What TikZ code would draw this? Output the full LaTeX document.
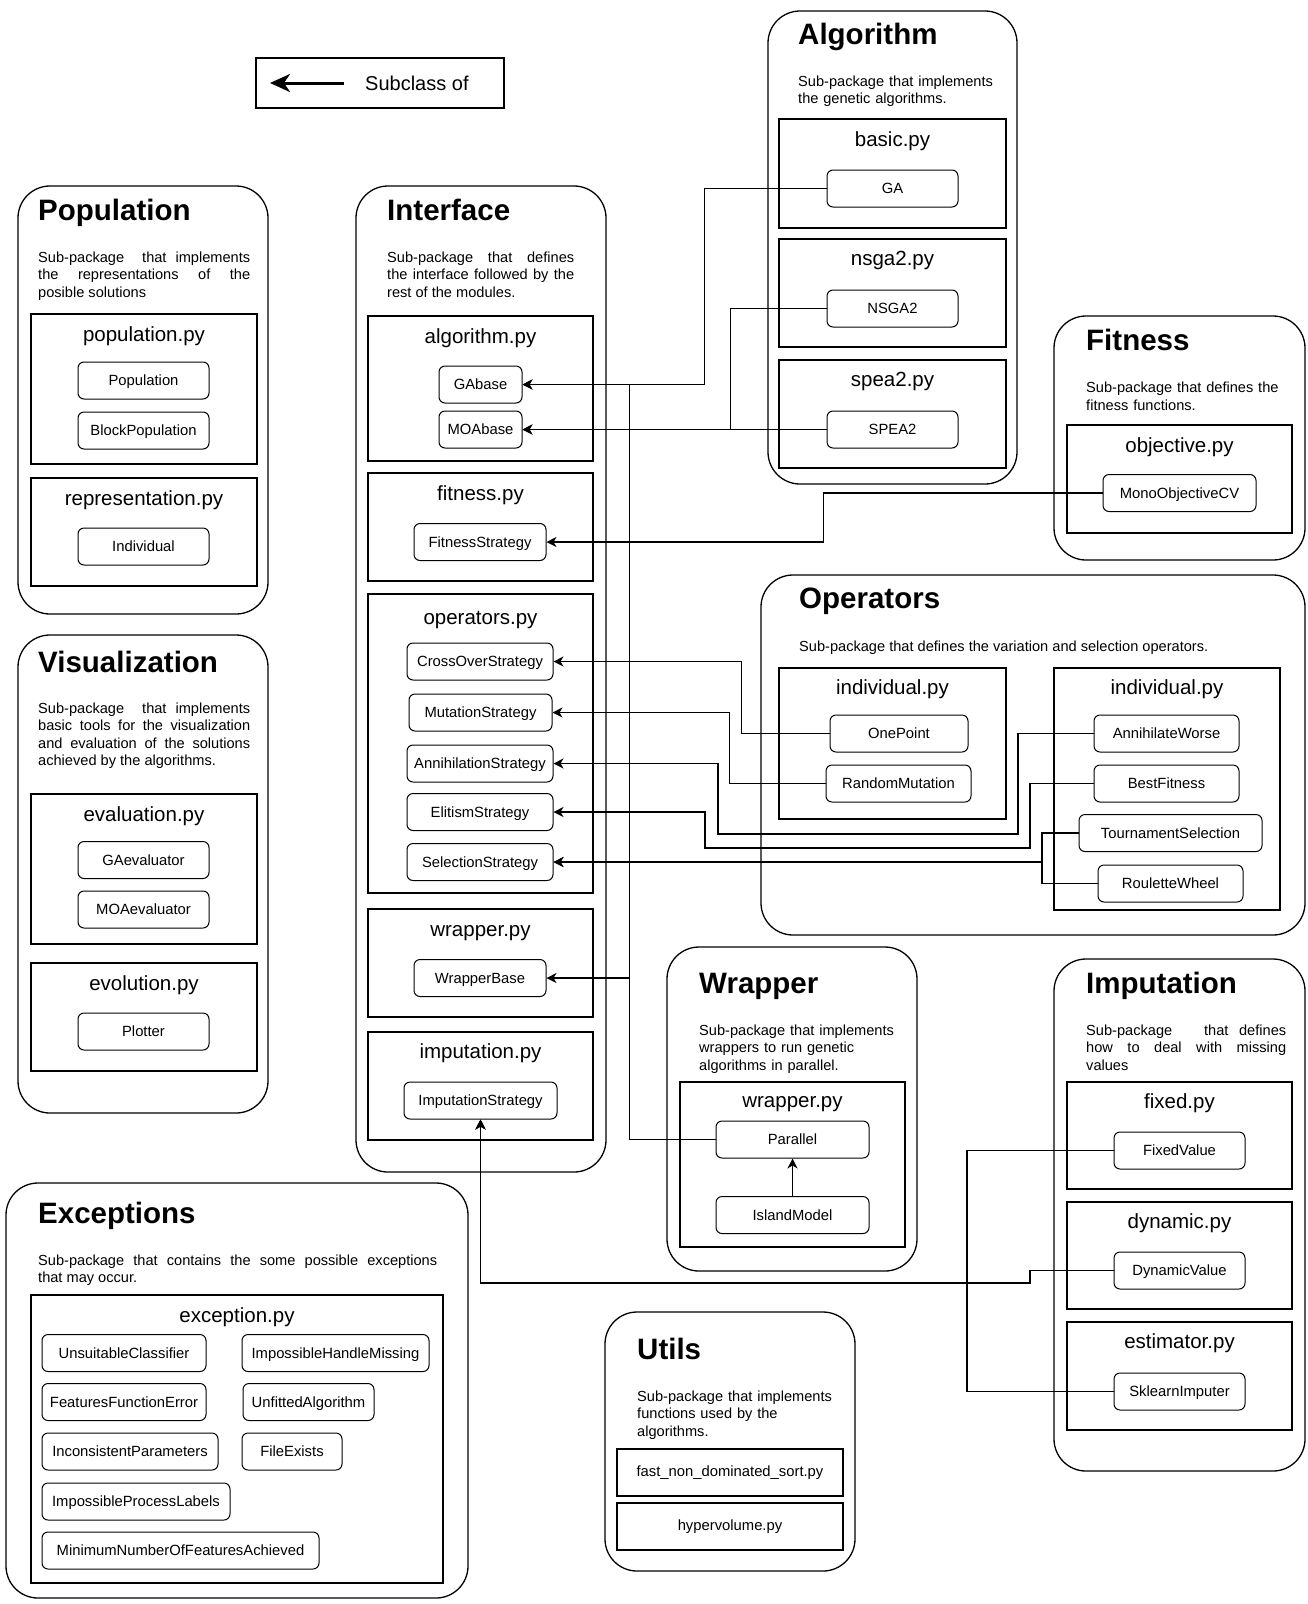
\documentclass[tikz,border=0pt]{standalone}
\usepackage{fontspec}
\setmainfont{Liberation Sans}
\usetikzlibrary{arrows.meta}

\hyphenpenalty=10000
\tolerance=10000
\hbadness=10000

\tikzset{
	pkg/.style={draw, line width=1.3pt, rounded corners=32pt},
	modbox/.style={draw, line width=2.8pt},
	ifbox/.style={draw, line width=1.2pt},
	cls/.style={draw, line width=1pt, rounded corners=6pt, minimum height=37pt, inner sep=0pt, text height=10.6pt, text depth=0pt, font=\fontsize{14.8}{17}\selectfont},
	pkgtitle/.style={anchor=base west, inner sep=0pt, font=\fontsize{29.5}{34}\selectfont\bfseries},
	pkgdesc/.style={anchor=base west, inner sep=0pt, font=\fontsize{14.6}{17.5}\selectfont},
	modtitle/.style={anchor=base, inner sep=0pt, font=\fontsize{20.5}{24}\selectfont},
	filetext/.style={inner sep=0pt, font=\fontsize{14.8}{17}\selectfont},
	sub/.style={line width=1.2pt, -{Stealth[length=10pt,width=10pt,inset=3pt]}},
	legarrow/.style={line width=3pt, -{Stealth[length=20pt,width=18pt,inset=6pt]}},
}

\begin{document}
\begin{tikzpicture}[x=1pt,y=-1pt]
	\useasboundingbox (0,0) rectangle (1307,1604);

	% legend
	\draw [ifbox] (256,58) rectangle (504,108);
	\coordinate (legS) at (344,83);
	\coordinate (legE) at (270,83);
	\draw [legarrow] (legS) -- (legE);
	\node [anchor=west, inner sep=0pt, font=\fontsize{20}{24}\selectfont] (legT) at (365,83) {Subclass of};

	% Population
	\draw [pkg] (18,186) rectangle (268,614);
	\node [pkgtitle] (popT) at (38,220) {Population};
	\node [pkgdesc, text width=212pt, align=justify] (popD) at (38,262) {Sub-package\ \ that implements\linebreak the representations of the\linebreak posible solutions};
	\draw [modbox] (31,314) rectangle (257,464);
	\node [modtitle] (popF) at (144,341) {population.py};
	\node [cls, minimum width=131pt] (Population) at (143.5,380.5) {Population};
	\node [cls, minimum width=131pt] (BlockPopulation) at (143.5,430.5) {BlockPopulation};
	\draw [modbox] (31,478) rectangle (257,586);
	\node [modtitle] (repF) at (144,505) {representation.py};
	\node [cls, minimum width=131pt] (Individual) at (143.5,546.5) {Individual};

	% Visualization
	\draw [pkg] (18,635) rectangle (268,1113);
	\node [pkgtitle] (visT) at (38,672) {Visualization};
	\node [pkgdesc, text width=212pt, align=justify] (visD) at (38,713) {Sub-package\ \ that implements\linebreak basic tools for the visualization\linebreak and evaluation of the solutions\linebreak achieved by the algorithms.};
	\draw [modbox] (31,794) rectangle (257,944);
	\node [modtitle] (evaF) at (144,821) {evaluation.py};
	\node [cls, minimum width=131pt] (GAevaluator) at (143.5,860) {GAevaluator};
	\node [cls, minimum width=131pt] (MOAevaluator) at (143.5,909.5) {MOAevaluator};
	\draw [modbox] (31,963) rectangle (257,1071);
	\node [modtitle] (evoF) at (144,990) {evolution.py};
	\node [cls, minimum width=131pt] (Plotter) at (143.5,1031.5) {Plotter};

	% Interface
	\draw [pkg] (356,186) rectangle (606,1172);
	\node [pkgtitle] (intT) at (387,220) {Interface};
	\node [pkgdesc, text width=187pt, align=justify] (intD) at (387,262) {Sub-package that defines\linebreak the interface followed by the\linebreak rest of the modules.};
	\draw [ifbox] (368,316) rectangle (593,461);
	\node [modtitle] (algF) at (480.5,343) {algorithm.py};
	\node [cls, minimum width=83pt] (GAbase) at (480.5,384.5) {GAbase};
	\node [cls, minimum width=83pt] (MOAbase) at (480.5,429.5) {MOAbase};
	\draw [ifbox] (368,473) rectangle (593,581);
	\node [modtitle] (fitF) at (480.5,500) {fitness.py};
	\node [cls, minimum width=132pt] (FitnessStrategy) at (480,542) {FitnessStrategy};
	\draw [ifbox] (368,594) rectangle (593,893);
	\node [modtitle] (opF) at (480.5,624) {operators.py};
	\node [cls, minimum width=146pt] (CrossOverStrategy) at (480,661.5) {CrossOverStrategy};
	\node [cls, minimum width=143pt] (MutationStrategy) at (480.5,712.5) {MutationStrategy};
	\node [cls, minimum width=146pt] (AnnihilationStrategy) at (480,763.5) {AnnihilationStrategy};
	\node [cls, minimum width=146pt] (ElitismStrategy) at (480,812) {ElitismStrategy};
	\node [cls, minimum width=146pt] (SelectionStrategy) at (480,862) {SelectionStrategy};
	\draw [ifbox] (368,909) rectangle (593,1017);
	\node [modtitle] (wrapF) at (480.5,936) {wrapper.py};
	\node [cls, minimum width=132pt] (WrapperBase) at (480,978) {WrapperBase};
	\draw [ifbox] (368,1032) rectangle (593,1140);
	\node [modtitle] (impF) at (480.5,1058) {imputation.py};
	\node [cls, minimum width=153pt] (ImputationStrategy) at (480.5,1100.5) {ImputationStrategy};

	% Algorithm
	\draw [pkg] (768,11) rectangle (1017,484);
	\node [pkgtitle] (algT) at (798,44) {Algorithm};
	\node [pkgdesc, text width=205pt, align=left] (algD) at (798,86) {Sub-package that implements\\the genetic algorithms.};
	\draw [modbox] (779,119) rectangle (1006,228);
	\node [modtitle] (basF) at (892.5,146) {basic.py};
	\node [cls, minimum width=131pt] (GA) at (892.5,188.5) {GA};
	\draw [modbox] (779,239) rectangle (1006,347);
	\node [modtitle] (nsgF) at (892.5,265) {nsga2.py};
	\node [cls, minimum width=131pt] (NSGA2) at (892.5,308.5) {NSGA2};
	\draw [modbox] (779,360) rectangle (1006,468);
	\node [modtitle] (speF) at (892.5,386) {spea2.py};
	\node [cls, minimum width=131pt] (SPEA2) at (892.5,429.5) {SPEA2};

	% Fitness
	\draw [pkg] (1054,316) rectangle (1305,560);
	\node [pkgtitle] (fitT) at (1086,350) {Fitness};
	\node [pkgdesc, text width=200pt, align=left] (fitD) at (1086,392.5) {Sub-package that defines the\\fitness functions.};
	\draw [modbox] (1067,425) rectangle (1292,533);
	\node [modtitle] (objF) at (1179.5,452) {objective.py};
	\node [cls, minimum width=153pt] (MonoObjectiveCV) at (1179.5,493) {MonoObjectiveCV};

	% Operators
	\draw [pkg] (761,575) rectangle (1305,935);
	\node [pkgtitle] (opT) at (799,608) {Operators};
	\node [pkgdesc] (opD) at (799,651.5) {Sub-package that defines the variation and selection operators.};
	\draw [modbox] (779,668) rectangle (1006,819);
	\node [modtitle] (indAF) at (892.5,694) {individual.py};
	\node [cls, minimum width=138pt] (OnePoint) at (899,733.5) {OnePoint};
	\node [cls, minimum width=145pt] (RandomMutation) at (898.5,783.5) {RandomMutation};
	\draw [modbox] (1054,668) rectangle (1280,910);
	\node [modtitle] (indBF) at (1167,694) {individual.py};
	\node [cls, minimum width=145pt] (AnnihilateWorse) at (1166.5,733.5) {AnnihilateWorse};
	\node [cls, minimum width=145pt] (BestFitness) at (1166.5,783.5) {BestFitness};
	\node [cls, minimum width=183pt] (TournamentSelection) at (1170.5,833) {TournamentSelection};
	\node [cls, minimum width=145pt] (RouletteWheel) at (1170.5,883.5) {RouletteWheel};

	% Wrapper
	\draw [pkg] (667,947) rectangle (917,1271);
	\node [pkgtitle] (wrT) at (699,993) {Wrapper};
	\node [pkgdesc, text width=210pt, align=left] (wrD) at (699,1035) {Sub-package that implements\\wrappers to run genetic\\algorithms in parallel.};
	\draw [modbox] (680,1082) rectangle (905,1247);
	\node [modtitle] (wrF) at (792.5,1107) {wrapper.py};
	\node [cls, minimum width=153pt] (Parallel) at (792.5,1139.5) {Parallel};
	\node [cls, minimum width=153pt] (IslandModel) at (792.5,1215) {IslandModel};

	% Imputation
	\draw [pkg] (1054,959) rectangle (1305,1471);
	\node [pkgtitle] (imT) at (1086,993) {Imputation};
	\node [pkgdesc, text width=200pt, align=justify] (imD) at (1086,1035) {Sub-package\ \ \ that defines\linebreak how to deal with missing\linebreak values};
	\draw [modbox] (1067,1082) rectangle (1292,1189);
	\node [modtitle] (fixF) at (1179.5,1108) {fixed.py};
	\node [cls, minimum width=131pt] (FixedValue) at (1179.5,1150.5) {FixedValue};
	\draw [modbox] (1067,1202) rectangle (1292,1309);
	\node [modtitle] (dynF) at (1179.5,1228) {dynamic.py};
	\node [cls, minimum width=131pt] (DynamicValue) at (1179.5,1270.5) {DynamicValue};
	\draw [modbox] (1067,1322) rectangle (1292,1430);
	\node [modtitle] (estF) at (1179.5,1348) {estimator.py};
	\node [cls, minimum width=131pt] (SklearnImputer) at (1179.5,1391.5) {SklearnImputer};

	% Exceptions
	\draw [pkg] (6,1183) rectangle (468,1598);
	\node [pkgtitle] (excT) at (38,1223) {Exceptions};
	\node [pkgdesc, text width=399pt, align=justify] (excD) at (38,1265) {Sub-package that contains the some possible exceptions\linebreak that may occur.};
	\draw [modbox] (31,1295) rectangle (443,1583);
	\node [modtitle] (excF) at (237,1322) {exception.py};
	\node [cls, minimum width=164pt] (UnsuitableClassifier) at (124,1353) {UnsuitableClassifier};
	\node [cls, minimum width=187pt] (ImpossibleHandleMissing) at (335.5,1353) {ImpossibleHandleMissing};
	\node [cls, minimum width=164pt] (FeaturesFunctionError) at (124,1402) {FeaturesFunctionError};
	\node [cls, minimum width=131pt] (UnfittedAlgorithm) at (308.5,1402) {UnfittedAlgorithm};
	\node [cls, minimum width=176pt] (InconsistentParameters) at (130,1451.5) {InconsistentParameters};
	\node [cls, minimum width=100pt] (FileExists) at (292,1451.5) {FileExists};
	\node [cls, minimum width=188pt] (ImpossibleProcessLabels) at (136,1501.5) {ImpossibleProcessLabels};
	\node [cls, minimum width=277pt] (MinimumNumberOfFeaturesAchieved) at (180.5,1550.5) {MinimumNumberOfFeaturesAchieved};

	% Utils
	\draw [pkg] (605,1312) rectangle (855,1571);
	\node [pkgtitle] (utT) at (637,1359) {Utils};
	\node [pkgdesc, text width=210pt, align=left] (utD) at (637,1401) {Sub-package that implements\\functions used by the\\algorithms.};
	\draw [modbox] (617,1449) rectangle (843,1496);
	\node [filetext] (fndsF) at (730,1472.5) {fast\_non\_dominated\_sort.py};
	\draw [modbox] (617,1503) rectangle (843,1550);
	\node [filetext] (hvF) at (730,1526.5) {hypervolume.py};

	% subclass connectors
	\coordinate (aw1) at (1018,834);
	\coordinate (aw2) at (718,834);
	\coordinate (bf1) at (1030,848);
	\coordinate (bf2) at (705,848);
	\coordinate (ts) at (1042,862);
	\coordinate (fx) at (967,1283);
	\coordinate (dv) at (1030,1283);

	\draw [sub] (GA.west) -- ++(-122,0) |- (GAbase.east);
	\draw [sub] (NSGA2.west) -- ++(-96,0) |- (MOAbase.east);
	\draw [sub] (SPEA2.west) -- (MOAbase.east);
	\draw [sub] (MonoObjectiveCV.west) -- ++(-279,0) |- (FitnessStrategy.east);
	\draw [sub] (OnePoint.west) -- ++(-88,0) |- (CrossOverStrategy.east);
	\draw [sub] (RandomMutation.west) -- ++(-96,0) |- (MutationStrategy.east);
	\draw [sub] (AnnihilateWorse.west) -| (aw1) -- (aw2) |- (AnnihilationStrategy.east);
	\draw [sub] (BestFitness.west) -| (bf1) -- (bf2) |- (ElitismStrategy.east);
	\draw [sub] (TournamentSelection.west) -| (ts) -- (SelectionStrategy.east);
	\draw [sub] (RouletteWheel.west) -| (ts) -- (SelectionStrategy.east);
	\draw [sub] (Parallel.west) -- ++(-86,0) |- (WrapperBase.east);
	\draw [sub] (Parallel.west) -- ++(-86,0) |- (GAbase.east);
	\draw [sub] (IslandModel.north) -- (Parallel.south);
	\draw [sub] (FixedValue.west) -| (fx) -| (ImputationStrategy.south);
	\draw [sub] (DynamicValue.west) -| (dv) -| (ImputationStrategy.south);
	\draw [sub] (SklearnImputer.west) -| (fx) -| (ImputationStrategy.south);
\end{tikzpicture}
\end{document}
